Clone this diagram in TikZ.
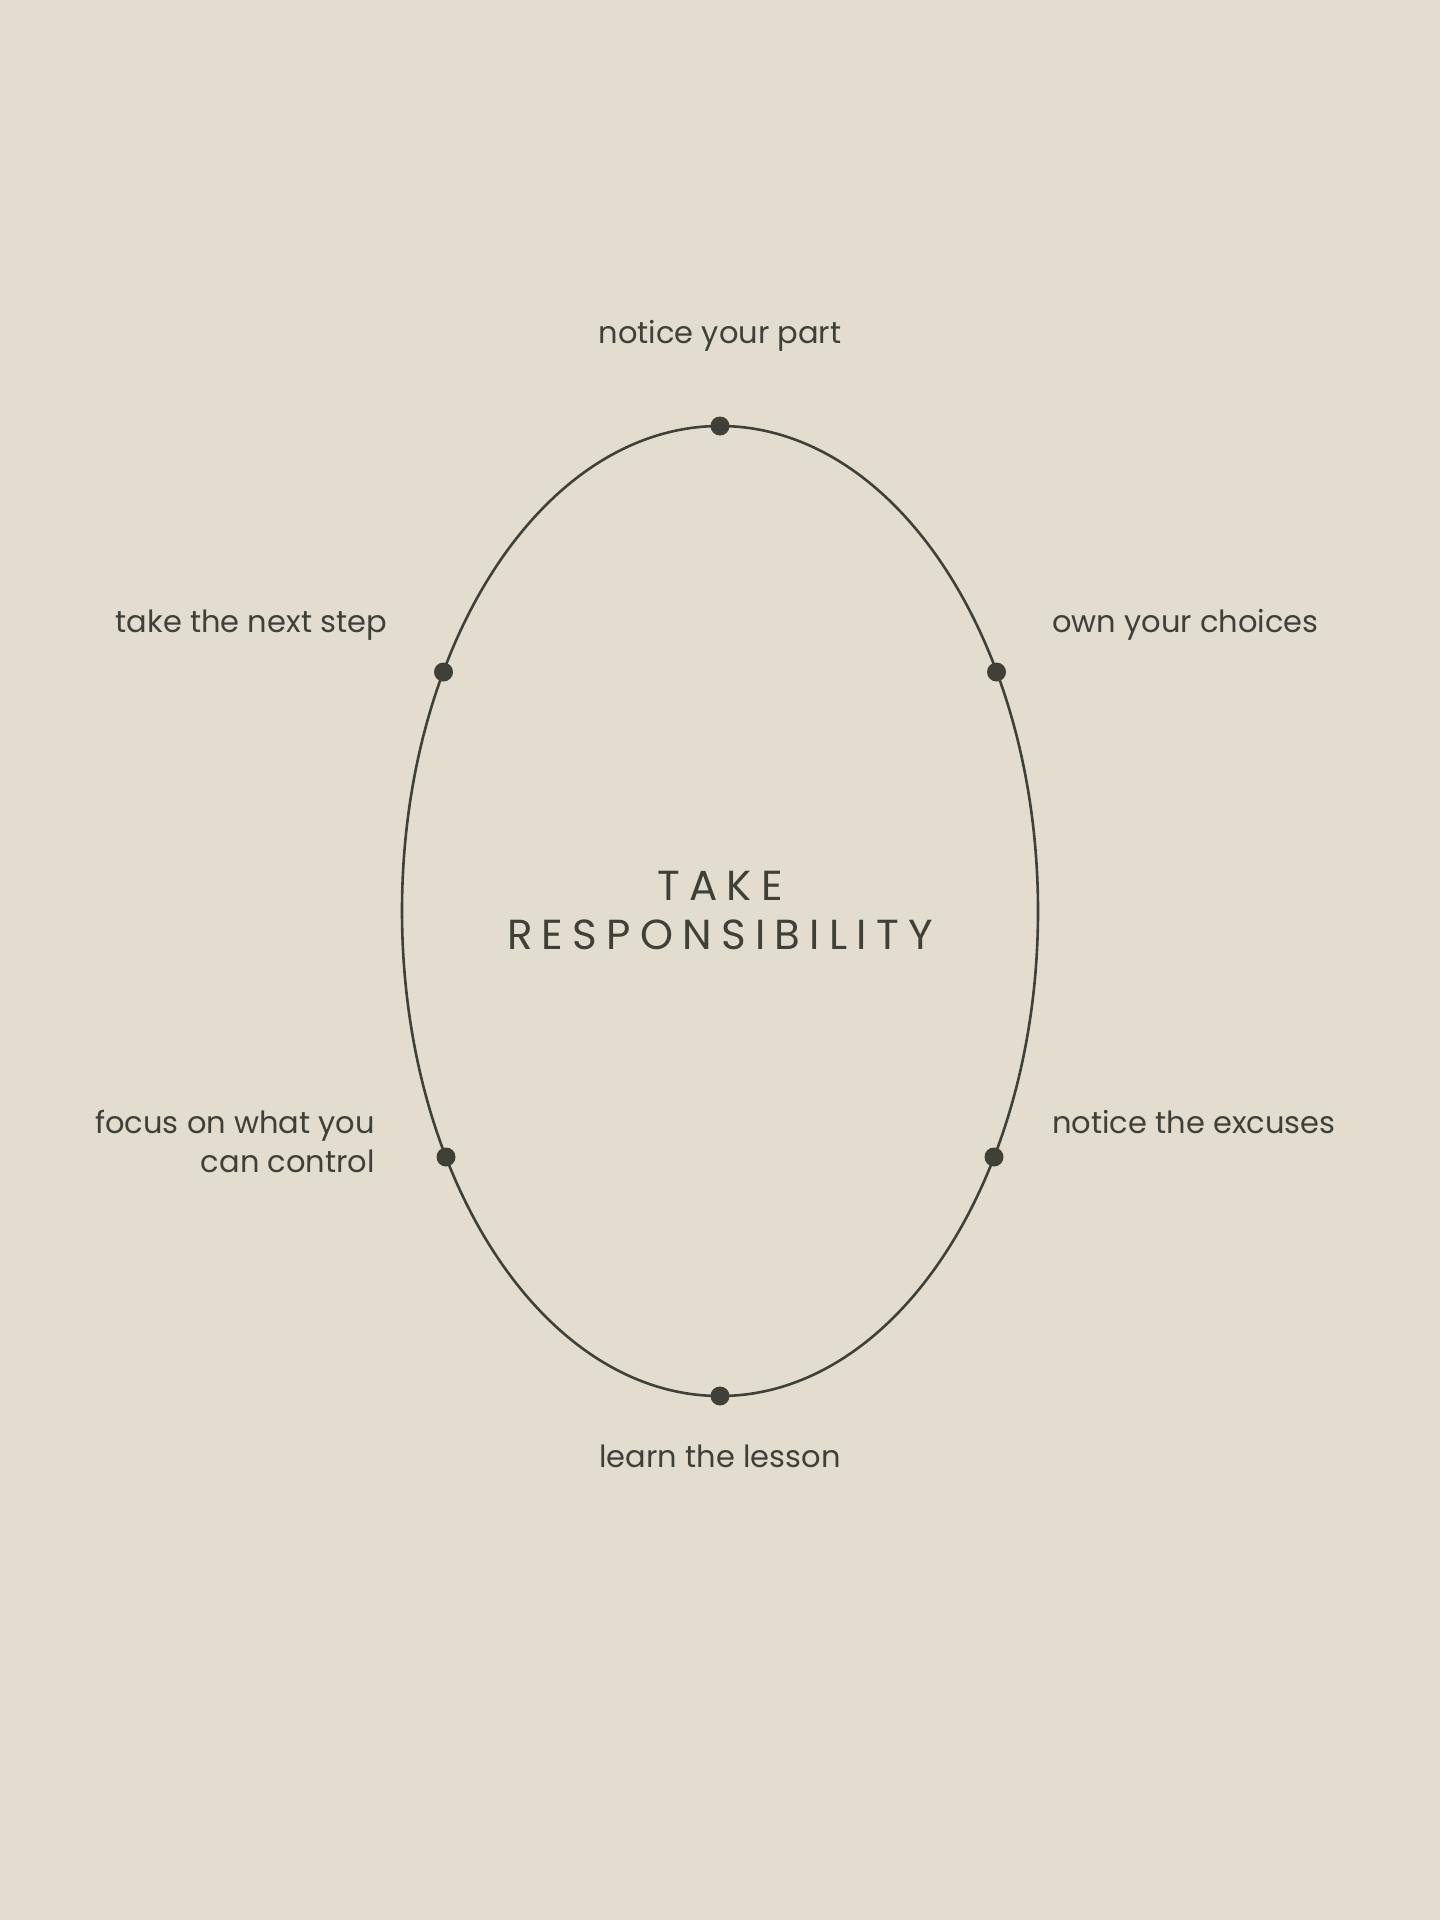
\documentclass[tikz,border=0pt]{standalone}
\usepackage{fontspec}
\setmainfont{Poppins}
\usepackage{xcolor}
\usepackage{tikz}

\definecolor{paper}{HTML}{E3DDD0}
\definecolor{ink}{HTML}{3F4138}

\tikzset{
    dot/.style={circle, fill=ink, inner sep=0pt, minimum size=19pt},
    lbl/.style={inner sep=0pt, text=ink, font=\fontsize{30.5}{39}\selectfont},
    title/.style={inner sep=0pt, text=ink, align=center,
        font=\fontsize{42}{49}\selectfont\addfontfeatures{LetterSpace=22}}
}

\begin{document}
\begin{tikzpicture}[x=1pt,y=-1pt]
        % Sfondo
        \fill[paper] (0,0) rectangle (1440,1920);
        \useasboundingbox (0,0) rectangle (1440,1920);

        \coordinate (o) at (720,911);

        % Ellisse
        \draw[ink, line width=2.6pt] (o) ellipse [x radius=318pt, y radius=485pt];

        % Punti
        \node[dot] (top) at (720,426) {};
        \node[dot] (upright) at (996.5,672) {};
        \node[dot] (lowright) at (994,1157) {};
        \node[dot] (bottom) at (720,1396) {};
        \node[dot] (lowleft) at (446,1157) {};
        \node[dot] (upleft) at (443.5,672) {};

        % Etichette
        \node[lbl, anchor=base] (part) at (720,343) {notice your part};
        \node[lbl, anchor=base west] (choices) at (1052,632) {own your choices};
        \node[lbl, anchor=base west] (excuses) at (1052,1133) {notice the excuses};
        \node[lbl, anchor=base] (lesson) at (720,1467) {learn the lesson};
        \node[lbl, anchor=base east, align=right] (control) at (375,1172) {focus on what you\\can control};
        \node[lbl, anchor=base east] (nextstep) at (387,632) {take the next step};

        % Centro
        \node[title, anchor=base] (resp) at (720,949) {TAKE\\RESPONSIBILITY};
\end{tikzpicture}
\end{document}
